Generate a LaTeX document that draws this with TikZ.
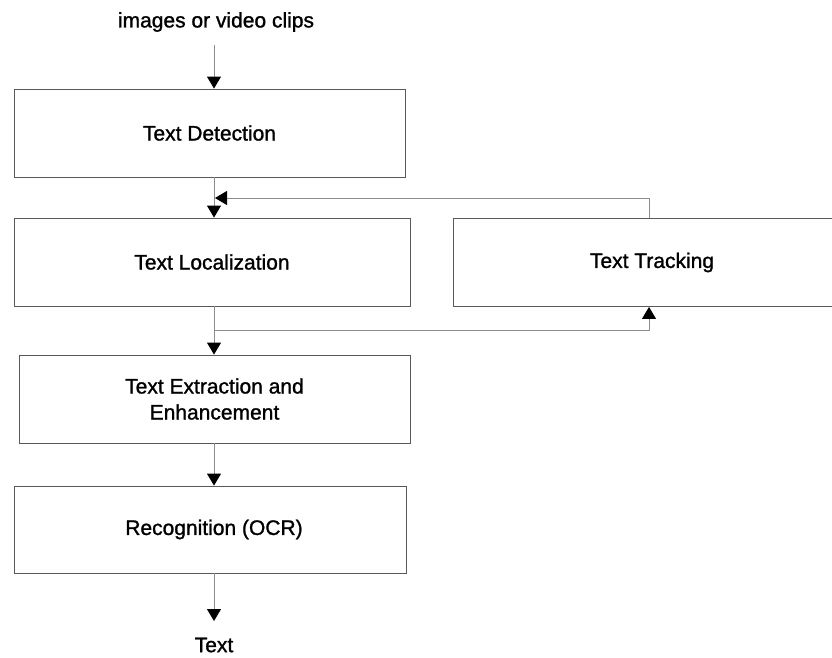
\documentclass[tikz,border=0pt]{standalone}
\usepackage{fontspec}
\setmainfont{Liberation Sans}[FakeBold=1.2]
\usetikzlibrary{arrows.meta}
\begin{document}
\begin{tikzpicture}[x=1pt,y=-1pt,
  stage/.style={draw=black!65, line width=0.9pt, minimum height=88pt,
    font=\fontsize{21}{26}\selectfont, align=center, inner sep=0pt},
  flow/.style={draw=black!45, line width=0.9pt,
    -{Triangle[width=14pt,length=12pt,fill=black,color=black]}},
  caption/.style={font=\fontsize{21}{26}\selectfont, inner sep=0pt}]
  \clip (0,0) rectangle (832,657);
  \fill[white] (0,0) rectangle (832,657);

  % pipeline stages
  \node[caption] (src) at (216,22) {images or video clips};
  \node[stage, minimum width=391pt] (det) at (209.5,133) {Text Detection};
  \node[stage, minimum width=396pt] (loc) at (212,262) {Text Localization};
  \node[stage, minimum width=392pt] (trk) at (649,262.5) {\hspace*{6pt}Text Tracking};
  \node[stage, minimum width=391pt] (ext) at (214.5,399) {Text Extraction and\\Enhancement};
  \node[stage, minimum width=392pt, minimum height=87pt] (ocr) at (210,529.5) {\hspace*{8pt}Recognition (OCR)};
  \node[caption] (out) at (214,645) {Text};

  % junction points on the main column
  \coordinate (join) at (215,198);
  \coordinate (split) at (214,330);
  \coordinate (start) at (214,45);
  \coordinate (end) at (214,621);

  % main flow
  \draw[flow] (start) -- (start |- det.north);
  \draw[flow] (det.south -| start) -- (loc.north -| start);
  \draw[flow] (loc.south -| start) -- (ext.north -| start);
  \draw[flow] (ext.south -| start) -- (ocr.north -| start);
  \draw[flow] (ocr.south -| start) -- (end);

  % tracking loop
  \draw[flow] (split) -| (trk.south);
  \draw[flow] (trk.north) |- (join);
\end{tikzpicture}
\end{document}
